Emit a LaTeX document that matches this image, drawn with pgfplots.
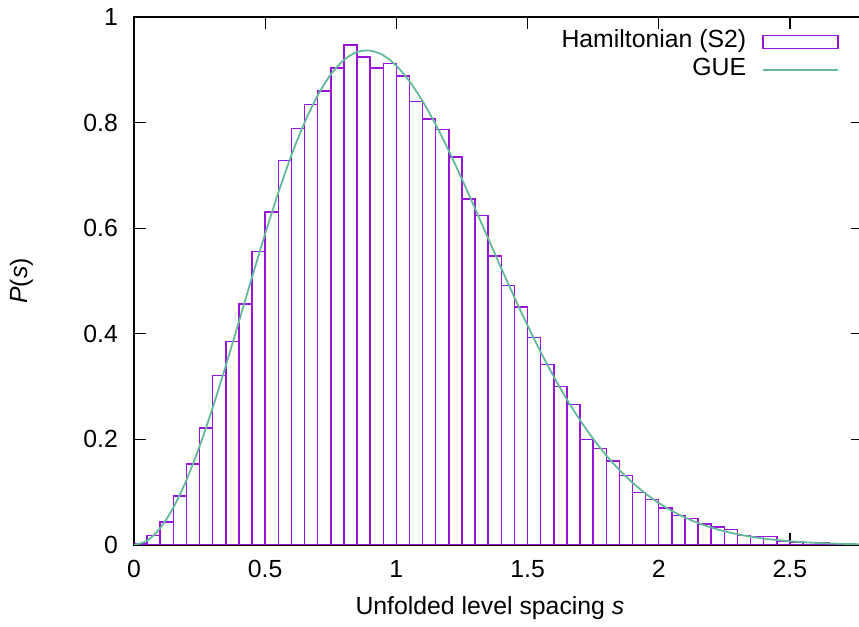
\documentclass[border=0pt]{standalone}
\usepackage{fontspec}
\setmainfont{Liberation Sans}
\usepackage{pgfplots}
\pgfplotsset{compat=1.18}
\definecolor{barc}{RGB}{152,20,215}
\definecolor{guec}{RGB}{100,185,155}
\begin{document}
\begin{tikzpicture}[font=\fontsize{12.4}{14}\selectfont]
\begin{axis}[
  name=ax, at={(0,0)}, anchor=south west,
  scale only axis, width=364.7pt, height=264pt,
  xmin=0, xmax=2.78, ymin=0, ymax=1,
  xtick={0,0.5,1,1.5,2,2.5},
  ytick={0,0.2,0.4,0.6,0.8,1},
  minor tick num=0,
  tick align=inside,
  major tick length=6pt,
  tick style={black, line width=0.6pt},
  axis line style={black, line width=1pt},
  /pgf/number format/assume math mode=true,
  xticklabel style={yshift=-4pt},
  yticklabel style={xshift=-4.5pt},
  xlabel={Unfolded level spacing \textit{s}},
  xlabel style={at={(rel axis cs:0.488,0)}, anchor=north, yshift=-22pt},
  ylabel={\textit{P}(\textit{s})},
  ylabel style={at={(rel axis cs:0,0.5)}, anchor=south, yshift=47pt},
  legend plot pos=right,
  legend cell align=right,
  legend style={draw=none, fill=none, at={(rel axis cs:1,1)}, anchor=north east,
    xshift=-12pt, yshift=-6.5pt, inner sep=0pt, row sep=2.5pt, column sep=7pt,
    nodes={inner sep=1pt, text height=0.75em, text depth=0.2em}},
]
\addplot[ybar interval, draw=barc, fill=none, line width=0.75pt,
  legend image code/.code={\draw[barc, line width=0.75pt] (0pt,-3.25pt) rectangle (37.5pt,3.25pt);}]
coordinates {
(0.00,0.002) (0.05,0.018) (0.10,0.044) (0.15,0.093) (0.20,0.153)
(0.25,0.222) (0.30,0.321) (0.35,0.385) (0.40,0.456) (0.45,0.556)
(0.50,0.631) (0.55,0.728) (0.60,0.789) (0.65,0.834) (0.70,0.860)
(0.75,0.903) (0.80,0.947) (0.85,0.924) (0.90,0.903) (0.95,0.912)
(1.00,0.888) (1.05,0.840) (1.10,0.807) (1.15,0.787) (1.20,0.735)
(1.25,0.655) (1.30,0.624) (1.35,0.547) (1.40,0.491) (1.45,0.451)
(1.50,0.393) (1.55,0.342) (1.60,0.300) (1.65,0.266) (1.70,0.200)
(1.75,0.183) (1.80,0.159) (1.85,0.132) (1.90,0.099) (1.95,0.086)
(2.00,0.070) (2.05,0.056) (2.10,0.050) (2.15,0.040) (2.20,0.034)
(2.25,0.029) (2.30,0.018) (2.35,0.016) (2.40,0.016) (2.45,0.008)
(2.50,0.006) (2.55,0.005) (2.60,0.0035) (2.65,0.002) (2.70,0.0015)
(2.75,0.0015)
};
\addlegendentry{Hamiltonian (S2)}
\addplot[guec, line width=0.9pt, smooth, no markers,
  legend image code/.code={\draw[guec, line width=0.9pt] (0pt,0pt) -- (37.5pt,0pt);}]
coordinates {
(0,0) (0.05,0.00808) (0.10,0.03201) (0.15,0.07089) (0.20,0.12325)
(0.25,0.18715) (0.30,0.26021) (0.35,0.33981) (0.40,0.42315) (0.45,0.50734)
(0.50,0.58959) (0.55,0.66729) (0.60,0.73807) (0.65,0.79995) (0.70,0.85133)
(0.75,0.89114) (0.80,0.91865) (0.85,0.93365) (0.90,0.93635) (0.95,0.92741)
(1.00,0.90758) (1.05,0.87810) (1.10,0.84053) (1.15,0.79609) (1.20,0.74637)
(1.25,0.69290) (1.30,0.63714) (1.35,0.58043) (1.40,0.52396) (1.45,0.46880)
(1.50,0.41579) (1.55,0.36562) (1.60,0.31880) (1.65,0.27567) (1.70,0.23643)
(1.75,0.20113) (1.80,0.16975) (1.85,0.14213) (1.90,0.11808) (1.95,0.09734)
(2.00,0.07963) (2.05,0.06465) (2.10,0.05209) (2.15,0.04165) (2.20,0.03306)
(2.25,0.02605) (2.30,0.02038) (2.35,0.01582) (2.40,0.01220) (2.45,0.00933)
(2.50,0.00709) (2.55,0.00535) (2.60,0.00401) (2.65,0.00298) (2.70,0.00220)
(2.75,0.00161) (2.80,0.00118)
};
\addlegendentry{GUE}
\end{axis}
\pgfresetboundingbox
\useasboundingbox (-67pt,-41pt) rectangle (362.5pt,272.5pt);
\end{tikzpicture}
\end{document}
